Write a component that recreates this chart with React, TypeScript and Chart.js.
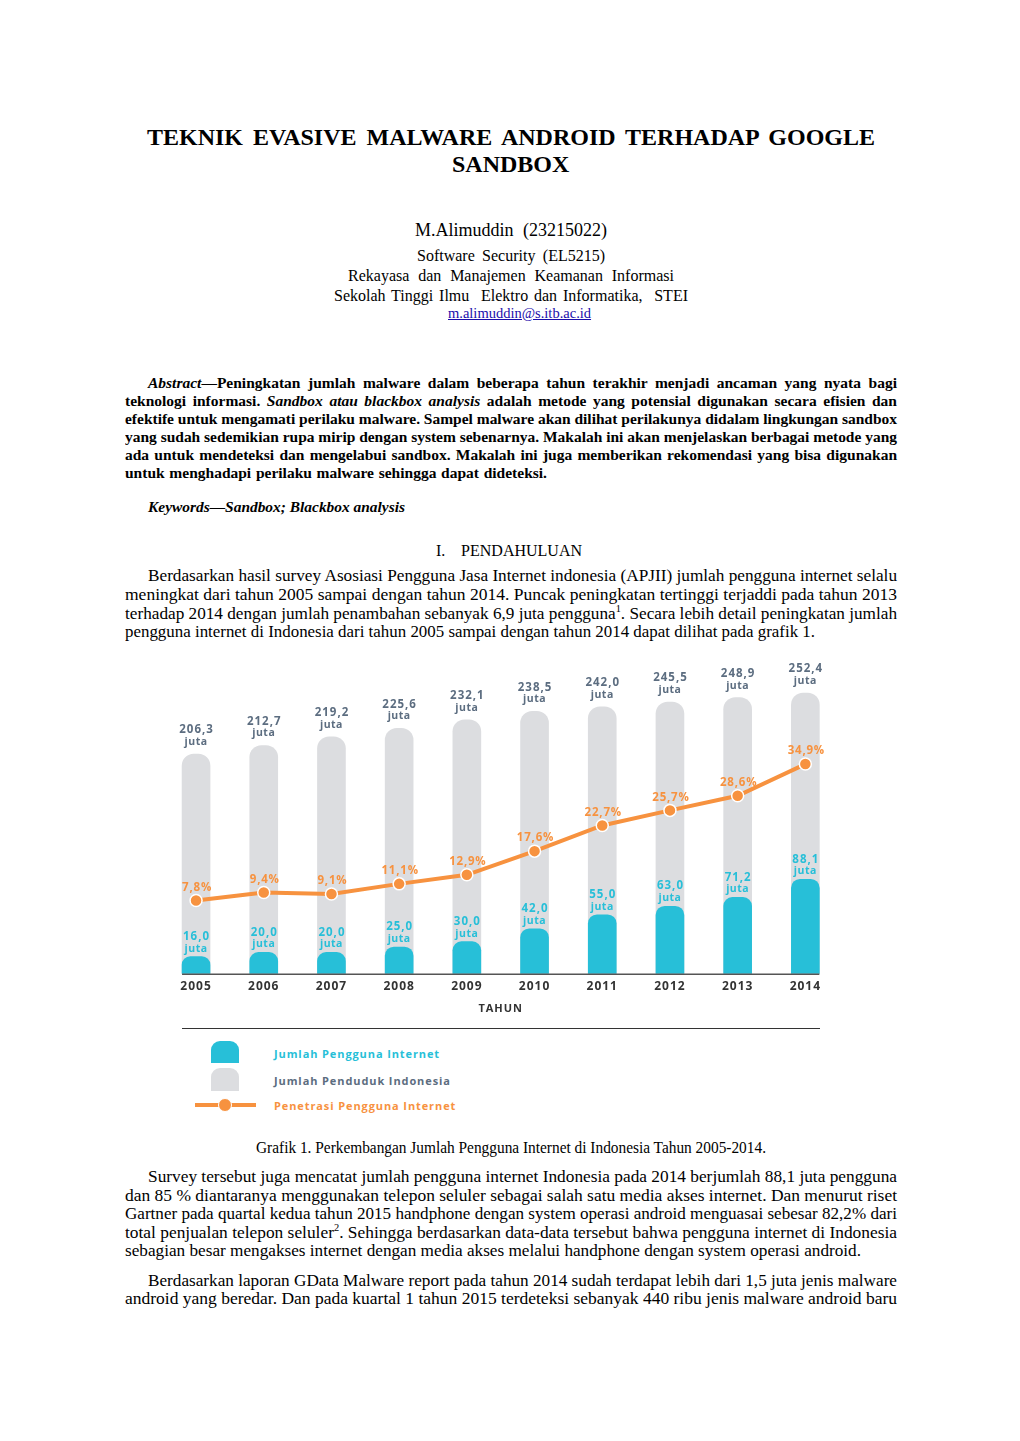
import React, { useEffect, useLayoutEffect, useRef } from "react";
import { Chart, registerables } from "chart.js";

Chart.register(...registerables);

// ---------- chart data ----------
const YEARS = ["2005", "2006", "2007", "2008", "2009", "2010", "2011", "2012", "2013", "2014"];
const POPULATION = [206.3, 212.7, 219.2, 225.6, 232.1, 238.5, 242.0, 245.5, 248.9, 252.4];
const USERS = [16.0, 20.0, 20.0, 25.0, 30.0, 42.0, 55.0, 63.0, 71.2, 88.1];
const PENETRATION = [7.8, 9.4, 9.1, 11.1, 12.9, 17.6, 22.7, 25.7, 28.6, 34.9];
const LEGEND_LABELS = ["Jumlah Pengguna Internet", "Jumlah Penduduk Indonesia", "Penetrasi Pengguna Internet"];
const X_TITLE = "TAHUN";
const UNIT = "juta";

const BLUE = "#27bfd8";
const GREY = "#dcdde0";
const ORANGE = "#f7923f";
const GREY_TEXT = "#5c6d80";

const SERIF = '"Liberation Serif", "Times New Roman", serif';
const SANS = '"Open Sans", "Noto Sans", sans-serif';

const fmt = (v: number) => v.toFixed(1).replace(".", ",");

// ---------- text layout ----------
type Seg = string | { t: string; i?: boolean; sup?: boolean; u?: boolean };
type LineDef = { s: Seg[]; x: number; w: number; y: number };

function FitLine({ line, size, bold, italic, color, lhf }: { line: LineDef; size: number; bold?: boolean; italic?: boolean; color?: string; lhf?: number }) {
  const ref = useRef<HTMLSpanElement>(null);
  useLayoutEffect(() => {
    const el = ref.current;
    if (!el) return;
    el.style.transform = "none";
    el.style.wordSpacing = "0px";
    const nat = el.getBoundingClientRect().width;
    if (nat <= 0) return;
    if (nat > line.w) {
      el.style.transform = `scaleX(${line.w / nat})`;
    } else {
      const n = (el.textContent || "").split(" ").length - 1;
      if (n > 0) el.style.wordSpacing = `${(line.w - nat) / n}px`;
    }
  }, [line]);
  const lh = Math.round(size * (lhf || 1.2));
  return (
    <div
      style={{
        position: "absolute",
        left: line.x,
        top: line.y - lh / 2,
        width: line.w + 40,
        height: lh,
        lineHeight: `${lh}px`,
        fontSize: size,
        fontFamily: SERIF,
        fontWeight: bold ? 700 : 400,
        fontStyle: italic ? "italic" : "normal",
        color: color || "#000",
        whiteSpace: "pre",
      }}
    >
      <span ref={ref} style={{ display: "inline-block", transformOrigin: "0 50%" }}>
        {line.s.map((seg, k) =>
          typeof seg === "string" ? (
            <React.Fragment key={k}>{seg}</React.Fragment>
          ) : seg.sup ? (
            <sup key={k} style={{ fontSize: "0.6em", lineHeight: 0 }}>{seg.t}</sup>
          ) : seg.u ? (
            <span key={k} style={{ textDecoration: "underline" }}>{seg.t}</span>
          ) : (
            <span key={k} style={{ fontStyle: seg.i ? "italic" : undefined }}>{seg.t}</span>
          )
        )}
      </span>
    </div>
  );
}

const TITLE: LineDef[] = [
  { s: ["TEKNIK EVASIVE MALWARE ANDROID TERHADAP GOOGLE"], x: 147, w: 728, y: 137 },
  { s: ["SANDBOX"], x: 452, w: 119, y: 164 },
];
const AUTHOR: LineDef = { s: ["M.Alimuddin  (23215022)"], x: 415, w: 192, y: 230 };
const AFFIL: LineDef[] = [
  { s: ["Software Security (EL5215)"], x: 417, w: 188, y: 255 },
  { s: ["Rekayasa dan Manajemen Keamanan Informasi"], x: 348, w: 326, y: 275 },
  { s: ["Sekolah Tinggi Ilmu  Elektro dan Informatika,  STEI"], x: 334, w: 354, y: 295 },
];
const EMAIL: LineDef = { s: [{ t: "m.alimuddin@s.itb.ac.id", u: true }], x: 448, w: 149, y: 313 };

const ABSTRACT: LineDef[] = [
  { s: [{ t: "Abstract", i: true }, "—Peningkatan jumlah malware dalam beberapa tahun terakhir menjadi ancaman yang nyata bagi"], x: 148, w: 749, y: 382 },
  { s: ["teknologi informasi. ", { t: "Sandbox atau blackbox analysis", i: true }, " adalah metode yang potensial digunakan secara efisien dan"], x: 125, w: 772, y: 400 },
  { s: ["efektife untuk mengamati perilaku malware. Sampel malware akan dilihat perilakunya didalam lingkungan sandbox"], x: 125, w: 772, y: 418 },
  { s: ["yang sudah sedemikian rupa mirip dengan system sebenarnya. Makalah ini akan menjelaskan berbagai metode yang"], x: 125, w: 772, y: 436 },
  { s: ["ada untuk mendeteksi dan mengelabui sandbox. Makalah ini juga memberikan rekomendasi yang bisa digunakan"], x: 125, w: 772, y: 454 },
  { s: ["untuk menghadapi perilaku malware sehingga dapat dideteksi."], x: 125, w: 422, y: 472 },
];
const KEYWORDS: LineDef = { s: ["Keywords—Sandbox; Blackbox analysis"], x: 148, w: 257, y: 506 };
const HEADING: LineDef = { s: ["I.   PENDAHULUAN"], x: 436, w: 146, y: 550 };

const PARA1: LineDef[] = [
  { s: ["Berdasarkan hasil survey Asosiasi Pengguna Jasa Internet indonesia (APJII) jumlah pengguna internet selalu"], x: 148, w: 749, y: 575 },
  { s: ["meningkat dari tahun 2005 sampai dengan tahun 2014. Puncak peningkatan tertinggi terjaddi pada tahun 2013"], x: 125, w: 772, y: 594 },
  { s: ["terhadap 2014 dengan jumlah penambahan sebanyak 6,9 juta pengguna", { t: "1", sup: true }, ". Secara lebih detail peningkatan jumlah"], x: 125, w: 772, y: 613 },
  { s: ["pengguna internet di Indonesia dari tahun 2005 sampai dengan tahun 2014 dapat dilihat pada grafik 1."], x: 125, w: 690, y: 631 },
];
const CAPTION: LineDef = { s: ["Grafik 1. Perkembangan Jumlah Pengguna Internet di Indonesia Tahun 2005-2014."], x: 256, w: 510, y: 1147 };
const PARA2: LineDef[] = [
  { s: ["Survey tersebut juga mencatat jumlah pengguna internet Indonesia pada 2014 berjumlah 88,1 juta pengguna"], x: 148, w: 749, y: 1176 },
  { s: ["dan 85 % diantaranya menggunakan telepon seluler sebagai salah satu media akses internet. Dan menurut riset"], x: 125, w: 772, y: 1195 },
  { s: ["Gartner pada quartal kedua tahun 2015 handphone dengan system operasi android menguasai sebesar 82,2% dari"], x: 125, w: 772, y: 1213 },
  { s: ["total penjualan telepon seluler", { t: "2", sup: true }, ". Sehingga berdasarkan data-data tersebut bahwa pengguna internet di Indonesia"], x: 125, w: 772, y: 1232 },
  { s: ["sebagian besar mengakses internet dengan media akses melalui handphone dengan system operasi android."], x: 125, w: 736, y: 1250 },
];
const PARA3: LineDef[] = [
  { s: ["Berdasarkan laporan GData Malware report pada tahun 2014 sudah terdapat lebih dari 1,5 juta jenis malware"], x: 148, w: 749, y: 1280 },
  { s: ["android yang beredar. Dan pada kuartal 1 tahun 2015 terdeteksi sebanyak 440 ribu jenis malware android baru"], x: 125, w: 772, y: 1298 },
];

// ---------- chart ----------
const spacingPlugin = {
  id: "axisSpacing",
  beforeDraw(chart: any) {
    (chart.ctx as any).letterSpacing = "1px";
  },
};

const labelPlugin = {
  id: "valueLabels",
  afterDatasetsDraw(chart: any) {
    const ctx = chart.ctx;
    ctx.save();
    ctx.textAlign = "center";
    ctx.textBaseline = "middle";
    // axis baseline spanning the bars
    const barMeta = chart.getDatasetMeta(1);
    const first = barMeta.data[0];
    const last = barMeta.data[barMeta.data.length - 1];
    const half = first.width / 2;
    ctx.strokeStyle = "#555";
    ctx.lineWidth = 1.5;
    ctx.beginPath();
    ctx.moveTo(first.x - half, chart.chartArea.bottom + 0.5);
    ctx.lineTo(last.x + half, chart.chartArea.bottom + 0.5);
    ctx.stroke();

    const drawPair = (meta: any, values: number[], color: string, d1: number, d2: number) => {
      meta.data.forEach((el: any, i: number) => {
        ctx.fillStyle = color;
        ctx.font = `700 11.5px ${SANS}`;
        (ctx as any).letterSpacing = "1px";
        ctx.fillText(fmt(values[i]), el.x + 0.5, el.y - d1);
        ctx.font = `700 10.5px ${SANS}`;
        (ctx as any).letterSpacing = "0.5px";
        ctx.fillText(UNIT, el.x, el.y - d2);
      });
    };
    drawPair(chart.getDatasetMeta(2), POPULATION, GREY_TEXT, 24, 12);
    drawPair(chart.getDatasetMeta(1), USERS, BLUE, 20, 8);

    const lineMeta = chart.getDatasetMeta(0);
    lineMeta.data.forEach((el: any, i: number) => {
      ctx.fillStyle = ORANGE;
      ctx.font = `700 11.5px ${SANS}`;
      (ctx as any).letterSpacing = "0.8px";
      ctx.fillText(fmt(PENETRATION[i]) + "%", el.x + 1, el.y - 13);
    });
    ctx.restore();
  },
};

function InternetChart() {
  const ref = useRef<HTMLCanvasElement>(null);
  useEffect(() => {
    if (!ref.current) return;
    const chart = new Chart(ref.current, {
      type: "bar",
      data: {
        labels: YEARS,
        datasets: [
          {
            type: "line",
            label: LEGEND_LABELS[2],
            data: PENETRATION,
            yAxisID: "yPct",
            order: 0,
            borderColor: ORANGE,
            borderWidth: 4,
            pointRadius: 6,
            pointBackgroundColor: ORANGE,
            pointBorderColor: "#ffffff",
            pointBorderWidth: 1.5,
            tension: 0,
          } as any,
          {
            type: "bar",
            label: LEGEND_LABELS[0],
            data: USERS,
            yAxisID: "yUsers",
            order: 1,
            backgroundColor: BLUE,
            barThickness: 28,
            grouped: false,
            borderRadius: { topLeft: 9, topRight: 9, bottomLeft: 0, bottomRight: 0 },
            borderSkipped: "start",
          } as any,
          {
            type: "bar",
            label: LEGEND_LABELS[1],
            data: POPULATION,
            yAxisID: "yPop",
            order: 2,
            backgroundColor: GREY,
            barThickness: 28,
            grouped: false,
            borderRadius: { topLeft: 12, topRight: 12, bottomLeft: 0, bottomRight: 0 },
            borderSkipped: "start",
          } as any,
        ],
      },
      options: {
        responsive: false,
        animation: false,
        layout: { padding: { left: 12.2, right: 10.8, top: 13, bottom: 14.6 } },
        plugins: { legend: { display: false }, tooltip: { enabled: false } },
        scales: {
          x: {
            type: "category",
            offset: true,
            grid: { display: false, drawTicks: false },
            border: { display: false },
            ticks: { color: "#333", font: { family: SANS, weight: "bold", size: 12 }, padding: 6 },
            title: { display: true, text: X_TITLE, color: "#333", font: { family: SANS, weight: "bold", size: 11 }, padding: { top: 2, bottom: 0 } },
          },
          yUsers: { type: "linear", display: false, min: 0, max: 299 },
          yPop: { type: "linear", display: false, min: 40.2, max: 282.6 },
          yPct: { type: "linear", display: false, min: -6.77, max: 56.97 },
        },
      } as any,
      plugins: [spacingPlugin, labelPlugin],
    });
    return () => chart.destroy();
  }, []);
  return <canvas ref={ref} width={700} height={390} style={{ position: "absolute", left: 150, top: 640, width: 700, height: 390 }} />;
}

function Legend() {
  const txt = (color: string, top: number, text: string) => (
    <div style={{ position: "absolute", left: 274, top: top - 8, height: 16, lineHeight: "16px", fontFamily: SANS, fontWeight: 700, fontSize: 11, letterSpacing: "0.9px", color, whiteSpace: "nowrap" }}>{text}</div>
  );
  return (
    <>
      <div style={{ position: "absolute", left: 182, top: 1028, width: 638, height: 1, background: "#333" }} />
      <div style={{ position: "absolute", left: 211, top: 1041, width: 28, height: 22, background: BLUE, borderRadius: "9px 9px 0 0" }} />
      <div style={{ position: "absolute", left: 211, top: 1068, width: 28, height: 23, background: GREY, borderRadius: "9px 9px 0 0" }} />
      <div style={{ position: "absolute", left: 195, top: 1103, width: 61, height: 4, background: ORANGE }} />
      <div style={{ position: "absolute", left: 218, top: 1098, width: 14, height: 14, boxSizing: "border-box", borderRadius: "50%", background: ORANGE, border: "1.5px solid #fff" }} />
      {txt(BLUE, 1054, LEGEND_LABELS[0])}
      {txt(GREY_TEXT, 1081, LEGEND_LABELS[1])}
      {txt(ORANGE, 1106, LEGEND_LABELS[2])}
    </>
  );
}

export default function App() {
  return (
    <div style={{ position: "absolute", left: 0, top: 0, width: 1020, height: 1441, background: "#fff", overflow: "hidden" }}>
      {TITLE.map((l, i) => <FitLine key={"t" + i} line={l} size={24} bold lhf={1.05} />)}
      <FitLine line={AUTHOR} size={18} />
      {AFFIL.map((l, i) => <FitLine key={"a" + i} line={l} size={16} />)}
      <FitLine line={EMAIL} size={14.5} color="#1a0dab" />
      {ABSTRACT.map((l, i) => <FitLine key={"ab" + i} line={l} size={15.5} bold />)}
      <FitLine line={KEYWORDS} size={15.5} bold italic />
      <FitLine line={HEADING} size={16} />
      {PARA1.map((l, i) => <FitLine key={"p1" + i} line={l} size={17.5} />)}
      <InternetChart />
      <Legend />
      <FitLine line={CAPTION} size={16} />
      {PARA2.map((l, i) => <FitLine key={"p2" + i} line={l} size={17.5} />)}
      {PARA3.map((l, i) => <FitLine key={"p3" + i} line={l} size={17.5} />)}
    </div>
  );
}
